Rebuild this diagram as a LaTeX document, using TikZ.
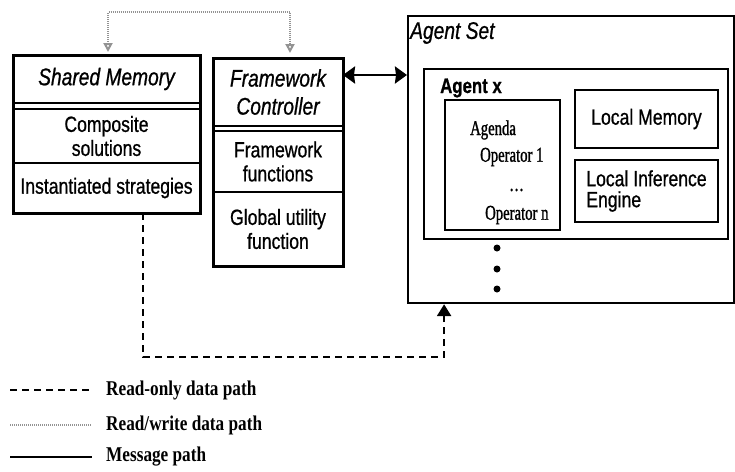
\documentclass[tikz,border=0pt]{standalone}
\usepackage{fontspec}
\setmainfont{Liberation Serif}[FakeStretch=0.82]
\setsansfont{Liberation Sans}[FakeStretch=0.8, FakeBold=0.8]
\newfontfamily\agendafont{Liberation Serif}[FakeStretch=0.7, FakeBold=1.2]
\usetikzlibrary{arrows.meta,positioning}
\tikzset{
  cell/.style={draw, line width=1.6pt, inner sep=0pt, outer sep=0pt, align=center,
               font=\sffamily\fontsize{22}{24}\selectfont},
  celltitle/.style={cell, font=\sffamily\itshape\fontsize{24}{28}\selectfont},
  innerbox/.style={cell, line width=1.3pt},
  outerline/.style={line width=3pt},
  readonly/.style={line width=2.5pt, dash pattern=on 7pt off 5pt},
  readwrite/.style={gray!85, line width=2pt, dash pattern=on 1pt off 1pt},
  message/.style={line width=2.8pt},
  legendlabels/.style={font=\rmfamily\bfseries\fontsize{21}{22}\selectfont, inner sep=0pt},
  agendatext/.style={font=\agendafont\fontsize{21}{22}\selectfont, inner sep=0pt}
}
\begin{document}
\begin{tikzpicture}[
  x=1pt,
  y=-1pt
]
\useasboundingbox (0,0) rectangle (735,471);

% shared memory
\node[celltitle, minimum width=187pt, minimum height=48pt, anchor=north west]
  (sm-title) at (13,55) {Shared Memory};
\node[cell, minimum width=187pt, minimum height=54pt, below=6pt of sm-title]
  (sm-comp) {Composite\\solutions};
\node[cell, minimum width=187pt, minimum height=50pt, below=0pt of sm-comp]
  (sm-inst) {Instantiated strategies};
\draw[outerline] (sm-title.north west) rectangle (sm-inst.south east);

% framework controller
\node[celltitle, minimum width=130pt, minimum height=68pt, anchor=north west]
  (fc-title) at (213,58) {Framework\\Controller};
\node[cell, minimum width=130pt, minimum height=61pt, below=5pt of fc-title]
  (fc-func) {Framework\\functions};
\node[cell, minimum width=130pt, minimum height=74pt, below=0pt of fc-func]
  (fc-util) {Global utility\\function};
\draw[outerline] (fc-title.north west) rectangle (fc-util.south east);

% agent set
\node[draw, line width=2.2pt, minimum width=326pt, minimum height=287pt,
      inner sep=0pt, anchor=north west] (agentset) at (407,15) {};
\node[font=\sffamily\itshape\fontsize{24}{26}\selectfont, inner sep=0pt, anchor=west]
  (setlabel) at ([xshift=3pt,yshift=-18pt]agentset.north west) {Agent Set};
\node[draw, line width=2.4pt, minimum width=304pt, minimum height=170pt,
      inner sep=0pt, anchor=north west] (agentx) at (423,68) {};
\node[font=\sffamily\bfseries\fontsize{21}{22}\selectfont, inner sep=0pt, anchor=west]
  (agentlabel) at ([xshift=17pt,yshift=-20pt]agentx.north west) {Agent x};
\node[innerbox, minimum width=115pt, minimum height=130pt, anchor=north west]
  (agenda) at (445,100) {};
\foreach [count=\i] \x/\y/\t in {470/130/Agenda,
                                 480/157/Operator 1,
                                 509/190/\ldots,
                                 485/215/Operator n}
  \node[agendatext, anchor=west] (agenda-\i) at (\x,\y) {\t};
\node[innerbox, minimum width=143pt, minimum height=58pt, anchor=north west]
  (localmem) at (575,90) {Local Memory};
\node[innerbox, align=left, minimum width=143pt, minimum height=62pt, anchor=north west,
      font=\sffamily\fontsize{22}{21}\selectfont]
  (localinf) at (575,160) {Local Inference\\Engine};
\foreach \y in {248,269,289}
  \fill (497,\y) circle (3.5pt);

% paths
\coordinate (msg-a) at ([yshift=-17pt]fc-title.north east);
\draw[message, {Stealth[length=12pt,width=17pt,inset=1pt]}-{Stealth[length=12pt,width=17pt,inset=1pt]}]
  (msg-a) -- (msg-a -| agentset.west);

\coordinate (ro-a) at ([xshift=36.5pt]sm-inst.south);
\coordinate (ro-turn) at (143,357);
\coordinate (ro-b) at ([xshift=-127pt]agentset.south);
\draw[readonly, -{Triangle[length=12pt,width=14pt]}] (ro-a) -- (ro-turn) -| (ro-b);

\coordinate (rw-a) at ([xshift=1.5pt,yshift=3pt]sm-title.north);
\coordinate (rw-b) at ([xshift=12pt,yshift=5pt]fc-title.north);
\coordinate (rw-top) at (108,12);
\draw[readwrite, {Triangle[open,length=9pt,width=9pt]}-{Triangle[open,length=9pt,width=9pt]}]
  (rw-a) -- (rw-top) -| (rw-b);

% legend
\foreach [count=\i] \s/\y/\t in {readonly/390/Read-only data path,
                                 readwrite/425/{Read/write data path},
                                 message/457/Message path}
  {
   \node[legendlabels, anchor=west] (leg-\i) at (106,\y) {\t};
   \draw[\s] ([xshift=-96pt]leg-\i.west) -- ([xshift=-14pt]leg-\i.west);
  }

\end{tikzpicture}
\end{document}
